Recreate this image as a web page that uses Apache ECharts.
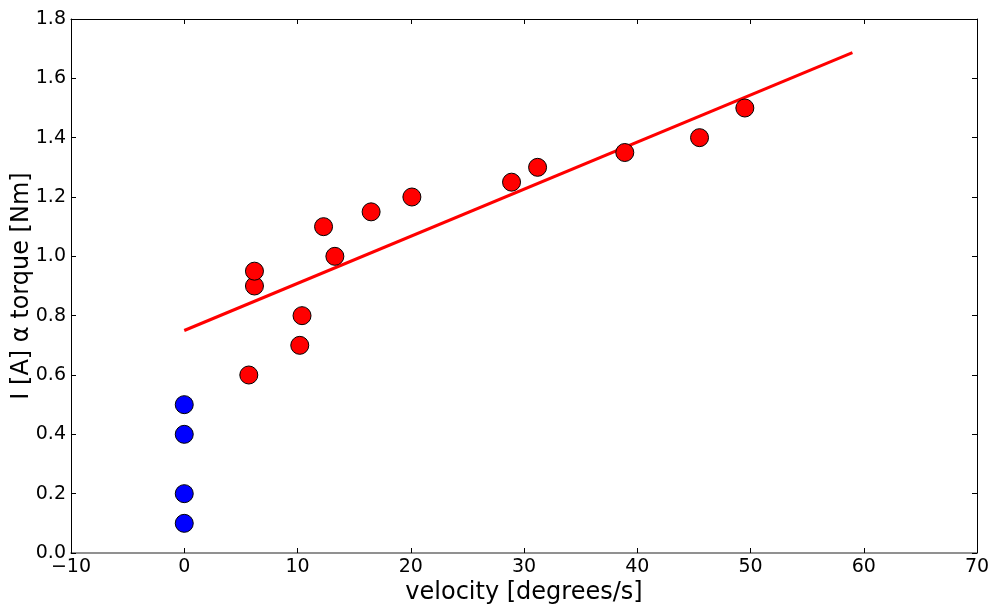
<!DOCTYPE html>
<html>
<head>
<meta charset="utf-8">
<script src="https://cdn.jsdelivr.net/npm/echarts@6/dist/echarts.min.js"></script>
<style>html,body{margin:0;padding:0;background:#fff}#c{width:998px;height:607px}</style>
</head>
<body>
<div id="c"></div>
<script>
// Data
const blueX = [0, 0, 0, 0];
const blueY = [0.1, 0.2, 0.4, 0.5];
const redX = [5.7, 6.2, 6.2, 10.2, 10.4, 12.3, 13.3, 16.5, 20.1, 28.9, 31.2, 38.9, 45.5, 49.5];
const redY = [0.6, 0.9, 0.95, 0.7, 0.8, 1.1, 1.0, 1.15, 1.2, 1.25, 1.3, 1.35, 1.4, 1.5];
const fitX = [0, 59];
const fitY = [0.75, 1.687];

const zip = (a, b) => a.map((v, i) => [v, b[i]]);
const font = 'DejaVu Sans';
const minus = v => String(v).replace('-', '\u2212');

const chart = echarts.init(document.getElementById('c'));
chart.setOption({
  animation: false,
  backgroundColor: '#fff',
  grid: { left: 71, right: 21, top: 19, bottom: 54, containLabel: false, outerBoundsMode: 'none' },
  xAxis: [{
    type: 'value', min: -10, max: 70, interval: 10,
    name: 'velocity [degrees/s]', nameLocation: 'middle', nameGap: 28, nameMoveOverlap: false,
    nameTextStyle: { fontFamily: font, fontSize: 24, color: '#000', verticalAlign: 'top' },
    axisLine: { onZero: false, lineStyle: { color: '#6e6e6e', width: 1.5 } },
    axisTick: { inside: true, length: 5, lineStyle: { color: '#000' } },
    axisLabel: { fontFamily: font, fontSize: 19, color: '#000', margin: 5, formatter: minus },
    splitLine: { show: false }
  }, {
    type: 'value', min: -10, max: 70, interval: 10, position: 'top',
    axisLine: { show: true, onZero: false, lineStyle: { color: '#000', width: 1 } },
    axisTick: { inside: true, length: 5, lineStyle: { color: '#000' } },
    axisLabel: { show: false }, splitLine: { show: false }
  }],
  yAxis: [{
    type: 'value', min: 0, max: 1.8, interval: 0.2,
    name: 'I [A] \u03b1 torque [Nm]', nameLocation: 'middle', nameGap: 37, nameMoveOverlap: false,
    nameTextStyle: { fontFamily: font, fontSize: 24, color: '#000' },
    axisLine: { show: true, onZero: false, lineStyle: { color: '#000', width: 1 } },
    axisTick: { show: true, inside: true, length: 5, lineStyle: { color: '#000' } },
    axisLabel: { fontFamily: font, fontSize: 19, color: '#000', margin: 5, formatter: v => v.toFixed(1) },
    splitLine: { show: false }
  }, {
    type: 'value', min: 0, max: 1.8, interval: 0.2, position: 'right',
    axisLine: { show: true, onZero: false, lineStyle: { color: '#000', width: 1 } },
    axisTick: { show: true, inside: true, length: 5, lineStyle: { color: '#000' } },
    axisLabel: { show: false }, splitLine: { show: false }
  }],
  series: [{
    type: 'line', data: zip(fitX, fitY), showSymbol: false, symbol: 'none',
    lineStyle: { color: '#ff0000', width: 3 }, z: 3
  }, {
    type: 'scatter', data: zip(blueX, blueY), symbol: 'circle', symbolSize: 18,
    itemStyle: { color: '#0000ff', borderColor: '#000', borderWidth: 1, opacity: 1 }, z: 4
  }, {
    type: 'scatter', data: zip(redX, redY), symbol: 'circle', symbolSize: 18,
    itemStyle: { color: '#ff0000', borderColor: '#000', borderWidth: 1, opacity: 1 }, z: 4
  }]
});
</script>
</body>
</html>
